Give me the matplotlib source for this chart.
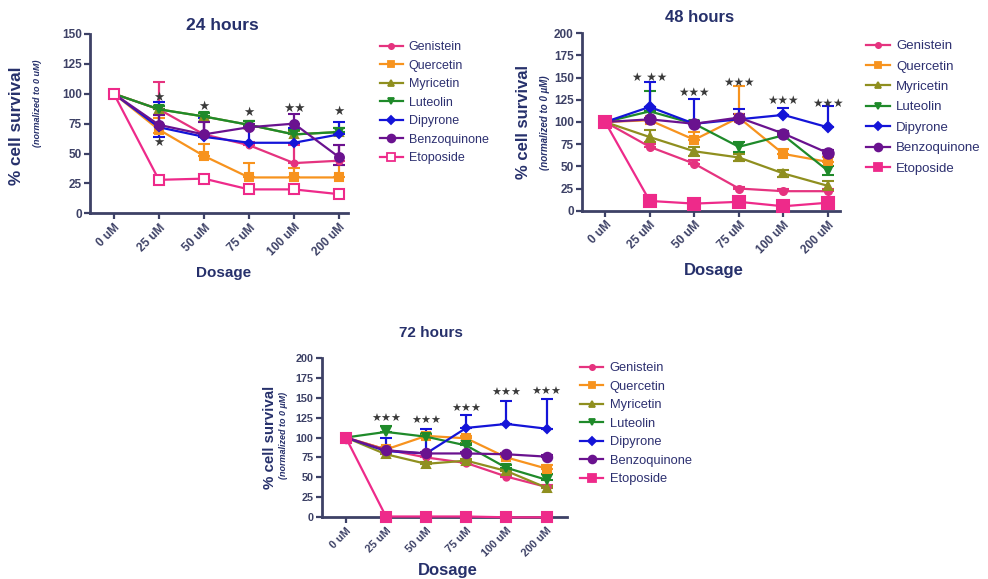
import matplotlib
matplotlib.use('Agg')
import matplotlib.pyplot as plt
from matplotlib.lines import Line2D

plt.rcParams['font.family'] = ['Liberation Sans', 'DejaVu Sans']

doses = ['0 uM', '25 uM', '50 uM', '75 uM', '100 uM', '200 uM']
compounds = ['Genistein', 'Quercetin', 'Myricetin', 'Luteolin', 'Dipyrone', 'Benzoquinone', 'Etoposide']

# ---------------- 24 hours ----------------
h24_genistein = [100, 87, 66, 57, 42, 44]
h24_quercetin = [100, 70, 48, 30, 30, 30]
h24_myricetin = [100, 87, 81, 74, 66, 68]
h24_luteolin = [100, 87, 81, 74, 66, 68]
h24_dipyrone = [100, 72, 64, 59, 59, 66]
h24_benzoquinone = [100, 74, 66, 72, 75, 47]
h24_etoposide = [100, 28, 29, 20, 20, 16]

h24_err_up = {
    'Genistein': [0, 23, 10, 3, 15, 13],
    'Quercetin': [0, 10, 10, 12, 8, 10],
    'Myricetin': [0, 3, 3, 3, 3, 3],
    'Luteolin': [0, 3, 3, 3, 4, 3],
    'Dipyrone': [0, 21, 16, 13, 12, 10],
    'Benzoquinone': [0, 8, 10, 3, 8, 10],
    'Etoposide': [0, 1, 1, 1, 1, 1],
}
h24_err_dn = {
    'Genistein': [0, 0, 0, 0, 0, 0],
    'Quercetin': [0, 3, 0, 0, 0, 0],
    'Myricetin': [0, 0, 0, 0, 0, 0],
    'Luteolin': [0, 0, 0, 0, 0, 0],
    'Dipyrone': [0, 8, 0, 0, 0, 0],
    'Benzoquinone': [0, 0, 0, 0, 0, 7],
    'Etoposide': [0, 0, 0, 0, 0, 0],
}
h24_star_labels = ['★', '★', '★', '★', '★★', '★']
h24_star_x = [1, 1, 2, 3, 4, 5]
h24_star_y = [97, 59, 89, 84, 88, 85]

# ---------------- 48 hours ----------------
h48_genistein = [100, 72, 53, 25, 22, 22]
h48_quercetin = [100, 102, 80, 105, 64, 55]
h48_myricetin = [100, 83, 67, 60, 42, 28]
h48_luteolin = [100, 112, 98, 72, 85, 45]
h48_dipyrone = [100, 117, 98, 103, 108, 94]
h48_benzoquinone = [100, 103, 98, 105, 87, 65]
h48_etoposide = [100, 11, 8, 10, 5, 9]

h48_err_up = {
    'Genistein': [0, 3, 4, 2, 2, 2],
    'Quercetin': [0, 3, 9, 36, 5, 5],
    'Myricetin': [0, 8, 5, 4, 4, 5],
    'Luteolin': [0, 23, 3, 6, 3, 5],
    'Dipyrone': [0, 28, 28, 12, 8, 24],
    'Benzoquinone': [0, 2, 3, 4, 3, 3],
    'Etoposide': [0, 7, 3, 4, 2, 3],
}
h48_err_dn = {
    'Genistein': [0, 0, 0, 0, 0, 0],
    'Quercetin': [0, 0, 0, 0, 0, 0],
    'Myricetin': [0, 6, 5, 4, 4, 5],
    'Luteolin': [0, 0, 0, 6, 0, 5],
    'Dipyrone': [0, 0, 0, 0, 0, 0],
    'Benzoquinone': [0, 0, 0, 0, 0, 0],
    'Etoposide': [0, 0, 0, 0, 0, 0],
}
h48_star_labels = ['★ ★★', '★★★', '★★★', '★★★', '★★★']
h48_star_x = [1, 2, 3, 4, 5]
h48_star_y = [150, 133, 145, 124, 121]

# ---------------- 72 hours ----------------
h72_genistein = [100, 85, 75, 68, 51, 38]
h72_quercetin = [100, 85, 102, 99, 75, 61]
h72_myricetin = [100, 79, 67, 71, 58, 37]
h72_luteolin = [100, 107, 101, 90, 62, 47]
h72_dipyrone = [100, 83, 80, 112, 117, 111]
h72_benzoquinone = [100, 84, 80, 80, 79, 76]
h72_etoposide = [100, 1, 1, 1, 0, 0]

h72_err_up = {
    'Genistein': [0, 2, 2, 2, 2, 2],
    'Quercetin': [0, 3, 3, 3, 3, 4],
    'Myricetin': [0, 2, 2, 2, 3, 2],
    'Luteolin': [0, 8, 3, 3, 4, 7],
    'Dipyrone': [0, 17, 31, 16, 29, 37],
    'Benzoquinone': [0, 2, 2, 2, 2, 2],
    'Etoposide': [0, 1, 1, 1, 1, 1],
}
h72_err_dn = {k: [0, 0, 0, 0, 0, 0] for k in compounds}
h72_star_labels = ['★★★', '★★★', '★★★', '★★★', '★★★']
h72_star_x = [1, 2, 3, 4, 5]
h72_star_y = [123, 121, 136, 156, 157]

colors = {
    'Genistein': '#e5337f',
    'Quercetin': '#f7931e',
    'Myricetin': '#8f8f1f',
    'Luteolin': '#1f8a2a',
    'Dipyrone': '#1414d8',
    'Benzoquinone': '#6a128f',
    'Etoposide': '#ee2a8a',
}
markers = {
    'Genistein': 'o', 'Quercetin': 's', 'Myricetin': '^', 'Luteolin': 'v',
    'Dipyrone': 'D', 'Benzoquinone': 'o', 'Etoposide': 's',
}
msizes = {
    'Genistein': 5, 'Quercetin': 6, 'Myricetin': 6, 'Luteolin': 6,
    'Dipyrone': 5, 'Benzoquinone': 7.5, 'Etoposide': 8,
}

NAVY = '#26306b'
AXC = '#3d4166'
TICKC = '#555555'
LEGC = '#2d3070'

W, H = 988, 579
fig = plt.figure(figsize=(W / 100, H / 100), dpi=100)


def fx(px):
    return px / W


def fy(py):
    return 1 - py / H


def panel(rect, data, err_up, err_dn, ymax, xlim, stars, tick_fs, open24=False,
          lw=1.6, mscale=1.0, star_fs=8):
    ax = fig.add_axes(rect)
    x = list(range(len(doses)))
    handles = []
    for name in compounds:
        y = data[name]
        c = colors[name]
        mfc = c
        if open24 and name == 'Etoposide':
            mfc = 'white'
        ax.errorbar(x, y, yerr=[err_dn[name], err_up[name]], color=c, lw=lw,
                    elinewidth=1.6, capsize=4, capthick=1.6, marker=markers[name],
                    ms=msizes[name] * mscale, mfc=mfc, mec=c, mew=1.5, clip_on=False, zorder=3)
        handles.append(Line2D([0], [0], color=c, lw=lw, marker=markers[name],
                              ms=msizes[name] * 0.75, mfc=mfc, mec=c, mew=1.3))
    labels, sx, sy = stars
    for t, xx, yy in zip(labels, sx, sy):
        ax.text(xx, yy, t, ha='center', va='center', fontsize=star_fs,
                color='#3a3a3a', family=['DejaVu Sans'])
    ax.set_xlim(*xlim)
    ax.set_ylim(0, ymax)
    ax.set_yticks(range(0, ymax + 1, 25))
    ax.set_xticks(x)
    ax.set_xticklabels(doses, rotation=45, ha='right', rotation_mode='anchor')
    for lab in ax.get_xticklabels() + ax.get_yticklabels():
        lab.set_fontweight('bold')
        lab.set_color(TICKC)
        lab.set_fontsize(tick_fs)
    for s in ['top', 'right']:
        ax.spines[s].set_visible(False)
    for s in ['left', 'bottom']:
        ax.spines[s].set_color(AXC)
        ax.spines[s].set_linewidth(2)
    ax.tick_params(axis='both', colors=AXC, width=1.6, length=4, direction='out', pad=2)
    ax.patch.set_alpha(0)
    return ax, handles


data24 = dict(zip(compounds, [h24_genistein, h24_quercetin, h24_myricetin, h24_luteolin,
                              h24_dipyrone, h24_benzoquinone, h24_etoposide]))
data48 = dict(zip(compounds, [h48_genistein, h48_quercetin, h48_myricetin, h48_luteolin,
                              h48_dipyrone, h48_benzoquinone, h48_etoposide]))
data72 = dict(zip(compounds, [h72_genistein, h72_quercetin, h72_myricetin, h72_luteolin,
                              h72_dipyrone, h72_benzoquinone, h72_etoposide]))

# 24 h panel
ax1, hd1 = panel([fx(90), fy(213.3), fx(258), 179.3 / H], data24, h24_err_up, h24_err_dn,
                 150, (-0.53, 5.2), (h24_star_labels, h24_star_x, h24_star_y), 8.5,
                 open24=True, lw=1.6, mscale=0.85, star_fs=9)
# 48 h panel
ax2, hd2 = panel([fx(582), fy(210.7), fx(258), 177.4 / H], data48, h48_err_up, h48_err_dn,
                 200, (-0.52, 5.27), (h48_star_labels, h48_star_x, h48_star_y), 8.5,
                 lw=1.6, star_fs=8.5)
# 72 h panel
ax3, hd3 = panel([fx(321.7), fy(517.3), fx(245), 159.6 / H], data72, h72_err_up, h72_err_dn,
                 200, (-0.6, 5.5), (h72_star_labels, h72_star_x, h72_star_y), 7.8,
                 lw=1.6, mscale=0.9, star_fs=8)

# titles
fig.text(fx(222), fy(25), '24 hours', ha='center', va='center', fontsize=12.5,
         fontweight='bold', color=NAVY)
fig.text(fx(700), fy(17), '48 hours', ha='center', va='center', fontsize=12,
         fontweight='bold', color=NAVY)
fig.text(fx(431), fy(333), '72 hours', ha='center', va='center', fontsize=11,
         fontweight='bold', color=NAVY)

# x labels
fig.text(fx(224), fy(273), 'Dosage', ha='center', va='center', fontsize=11,
         fontweight='bold', color=NAVY)
fig.text(fx(714), fy(270), 'Dosage', ha='center', va='center', fontsize=12,
         fontweight='bold', color=NAVY)
fig.text(fx(448), fy(570), 'Dosage', ha='center', va='center', fontsize=12,
         fontweight='bold', color=NAVY)

# y labels
fig.text(fx(17), fy(126), '% cell survival', rotation=90, ha='center', va='center',
         fontsize=12.3, fontweight='bold', color=NAVY)
fig.text(fx(37), fy(103), '(normalized to 0 uM)', rotation=90, ha='center', va='center',
         fontsize=6.5, fontweight='bold', style='italic', color=NAVY)
fig.text(fx(523), fy(122), '% cell survival', rotation=90, ha='center', va='center',
         fontsize=12, fontweight='bold', color=NAVY)
fig.text(fx(545), fy(123), '(normalized to 0 µM)', rotation=90, ha='center', va='center',
         fontsize=7, fontweight='bold', style='italic', color=NAVY)
fig.text(fx(270), fy(437), '% cell survival', rotation=90, ha='center', va='center',
         fontsize=10.8, fontweight='bold', color=NAVY)
fig.text(fx(284), fy(435), '(normalized to 0 µM)', rotation=90, ha='center', va='center',
         fontsize=6.5, fontweight='bold', style='italic', color=NAVY)


def legend(ax, handles, x0, ytop, fs, spacing):
    lg = ax.legend(handles, compounds, loc='upper left', bbox_to_anchor=(fx(x0), fy(ytop)),
                   bbox_transform=fig.transFigure, frameon=False, fontsize=fs,
                   labelspacing=spacing, handlelength=1.8, handletextpad=0.5,
                   borderpad=0, borderaxespad=0)
    for t in lg.get_texts():
        t.set_color(LEGC)
    return lg


legend(ax1, hd1, 380, 41, 9, 0.52)
legend(ax2, hd2, 866, 40, 9.5, 0.62)
legend(ax3, hd3, 580, 362, 9.3, 0.5)

fig.savefig('out.png', dpi=100)
